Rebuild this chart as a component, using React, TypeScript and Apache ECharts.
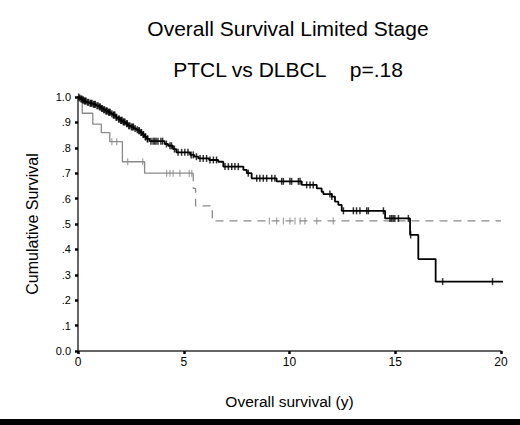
import React, { useEffect, useRef } from "react";
import * as echarts from "echarts";

const titleLine1 = "Overall Survival Limited Stage";
const titleLine2 = "PTCL vs DLBCL\u00a0\u00a0\u00a0\u00a0p=.18";
const xAxisTitle = "Overall survival (y)";
const yAxisTitle = "Cumulative Survival";

// DLBCL (black) Kaplan-Meier steps: time (y) -> survival after the event
const dlbclTimes = [0, 0.05, 0.12, 0.2, 0.3, 0.4, 0.55, 0.7, 0.85, 1.0, 1.1, 1.2, 1.3, 1.42, 1.55, 1.65, 1.78, 1.89, 2.0, 2.12, 2.25, 2.36, 2.5, 2.65, 2.75, 2.84, 2.95, 3.05, 3.15, 3.25, 3.39, 4.1, 4.26, 4.49, 4.65, 5.3, 5.5, 5.69, 6.2, 6.63, 6.87, 7.82, 7.98, 8.21, 9.39, 10.58, 11.29, 11.52, 11.6, 12.0, 12.15, 12.31, 12.47, 14.52, 15.7, 16.09, 16.91, 20.8];
const dlbclSurv = [1.0, 0.996, 0.992, 0.988, 0.984, 0.979, 0.975, 0.971, 0.966, 0.961, 0.955, 0.95, 0.945, 0.94, 0.934, 0.929, 0.92, 0.913, 0.908, 0.902, 0.895, 0.887, 0.882, 0.876, 0.871, 0.867, 0.86, 0.852, 0.843, 0.835, 0.826, 0.815, 0.808, 0.795, 0.782, 0.772, 0.765, 0.758, 0.752, 0.745, 0.726, 0.713, 0.7, 0.68, 0.668, 0.654, 0.64, 0.627, 0.618, 0.608, 0.588, 0.575, 0.552, 0.522, 0.457, 0.362, 0.273, 0.273];
const dlbclCensorTimes = [0.03, 0.08, 0.14, 0.18, 0.23, 0.26, 0.31, 0.34, 0.38, 0.45, 0.5, 0.58, 0.62, 0.66, 0.73, 0.78, 0.82, 0.9, 0.95, 1.02, 1.05, 1.12, 1.15, 1.22, 1.25, 1.32, 1.35, 1.38, 1.45, 1.48, 1.52, 1.6, 1.67, 1.7, 1.74, 1.8, 1.83, 1.92, 1.95, 2.02, 2.05, 2.08, 2.14, 2.18, 2.22, 2.3, 2.33, 2.4, 2.45, 2.53, 2.58, 2.62, 2.7, 2.8, 2.88, 2.9, 2.98, 3.0, 3.08, 3.1, 3.18, 3.2, 3.28, 3.3, 3.45, 3.55, 3.62, 3.69, 3.78, 3.92, 4.0, 4.18, 4.35, 4.42, 4.56, 4.73, 4.9, 5.05, 5.2, 5.35, 5.45, 5.6, 5.77, 5.92, 6.08, 6.24, 6.4, 6.55, 6.95, 7.11, 7.27, 7.42, 7.58, 8.05, 8.45, 8.6, 8.76, 8.92, 9.16, 9.31, 9.63, 9.71, 10.02, 10.1, 10.42, 10.5, 10.81, 10.97, 11.12, 11.91, 12.0, 12.55, 13.02, 13.17, 13.33, 13.65, 13.73, 14.44, 14.75, 14.83, 14.9, 14.98, 15.15, 15.62, 15.73, 17.24, 19.6];

// PTCL (grey) Kaplan-Meier steps
const ptclTimes = [0, 0.2, 0.7, 1.1, 1.5, 2.1, 3.15, 5.45, 5.45, 5.56, 6.35, 20.0];
const ptclSurv = [1.0, 0.936, 0.893, 0.86, 0.824, 0.745, 0.7, 0.7, 0.64, 0.571, 0.512, 0.512];
const ptclDashFromIndex = 7;
const ptclCensorTimes = [1.6, 1.83, 2.35, 3.06, 4.19, 4.35, 4.5, 4.82, 5.26, 5.38, 9.05, 9.39, 9.71, 10.02, 10.26, 10.5, 10.73, 11.29, 12.07];

const xTickValues = [0, 5, 10, 15, 20];

const FONT = "'Liberation Sans', Arial, Helvetica, sans-serif";

function survAt(times: number[], surv: number[], t: number) {
  let s = surv[0];
  for (let i = 0; i < times.length; i++) {
    if (times[i] <= t) s = surv[i];
  }
  return s;
}

export default function App() {
  const ref = useRef<HTMLDivElement>(null);
  useEffect(() => {
    document.body.style.margin = "0";
    if (!ref.current) return;
    const chart = echarts.init(ref.current, undefined, { renderer: "svg" });
    const dlbcl = dlbclTimes.map((t, i) => [t, dlbclSurv[i]]);
    const ptcl = ptclTimes.map((t, i) => [t, ptclSurv[i]]);
    const ptclSolid = ptcl.slice(0, ptclDashFromIndex + 1);
    const ptclDashed = ptcl.slice(ptclDashFromIndex);
    const dlbclCens = dlbclCensorTimes.map((t) => [t, survAt(dlbclTimes, dlbclSurv, t)]);
    const ptclCens = ptclCensorTimes.map((t) => [t, survAt(ptclTimes, ptclSurv, t)]);
    const axisColor = "#333";
    chart.setOption({
      animation: false,
      backgroundColor: "#fff",
      textStyle: { fontFamily: FONT },
      grid: { left: 78, right: 19, top: 97, bottom: 74, containLabel: false },
      xAxis: {
        type: "value",
        min: 0,
        max: 20,
        interval: 5,
        name: xAxisTitle,
        nameLocation: "middle",
        nameGap: 42,
        nameTextStyle: { fontSize: 15.5, color: "#000", fontFamily: FONT },
        axisLine: { show: true, onZero: false, lineStyle: { color: axisColor, width: 1.5 } },
        axisTick: { show: true, length: 3, lineStyle: { color: "#000", width: 2.5 } },
        axisLabel: {
          fontSize: 12,
          color: "#000",
          margin: 5,
          fontFamily: FONT,
          formatter: (v: number) => (xTickValues.includes(v) ? String(v) : ""),
        },
        splitLine: { show: false },
      },
      yAxis: {
        type: "value",
        min: 0,
        max: 1,
        interval: 0.1,
        name: yAxisTitle,
        nameLocation: "middle",
        nameGap: 38,
        nameRotate: 90,
        nameTextStyle: { fontSize: 16, color: "#000", fontFamily: FONT },
        axisLine: { show: true, onZero: false, lineStyle: { color: axisColor, width: 1.5 } },
        axisTick: { show: true, length: 3, lineStyle: { color: "#000", width: 2.5 } },
        axisLabel: {
          fontSize: 11,
          color: "#000",
          margin: 7,
          fontFamily: FONT,
          formatter: (v: number) => {
            const k = Math.round(v * 10);
            if (k === 10) return "1.0";
            if (k === 0) return "0.0";
            return "." + k;
          },
        },
        splitLine: { show: false },
      },
      graphic: [
        {
          type: "text",
          x: 288,
          y: 28,
          style: { text: titleLine1, font: `21px ${FONT}`, fill: "#000", align: "center", verticalAlign: "middle" },
        },
        {
          type: "text",
          x: 288,
          y: 69.5,
          style: { text: titleLine2, font: `21px ${FONT}`, fill: "#000", align: "center", verticalAlign: "middle" },
        },
        {
          type: "rect",
          shape: { x: 0, y: 419, width: 520, height: 6 },
          style: { fill: "#000" },
        },
      ],
      series: [
        {
          name: "PTCL",
          type: "line",
          step: "end",
          data: ptclSolid,
          symbol: "none",
          clip: false,
          lineStyle: { color: "#8a8a8a", width: 1.3 },
          z: 3,
        },
        {
          name: "PTCL dashed",
          type: "line",
          step: "end",
          data: ptclDashed,
          symbol: "none",
          clip: false,
          lineStyle: { color: "#8a8a8a", width: 1.3, type: [8, 6] },
          z: 3,
        },
        {
          name: "PTCL censored",
          type: "scatter",
          data: ptclCens,
          symbol: "rect",
          symbolSize: [1.2, 7],
          itemStyle: { color: "#8a8a8a" },
          z: 3,
        },
        {
          name: "DLBCL",
          type: "line",
          step: "end",
          data: dlbcl,
          symbol: "none",
          clip: false,
          lineStyle: { color: "#000", width: 1.8 },
          z: 4,
        },
        {
          name: "DLBCL censored",
          type: "scatter",
          data: dlbclCens,
          symbol: "rect",
          symbolSize: [1.5, 7],
          itemStyle: { color: "#000" },
          z: 4,
        },
      ],
    });
    return () => chart.dispose();
  }, []);
  return <div ref={ref} style={{ width: 520, height: 425 }} />;
}
